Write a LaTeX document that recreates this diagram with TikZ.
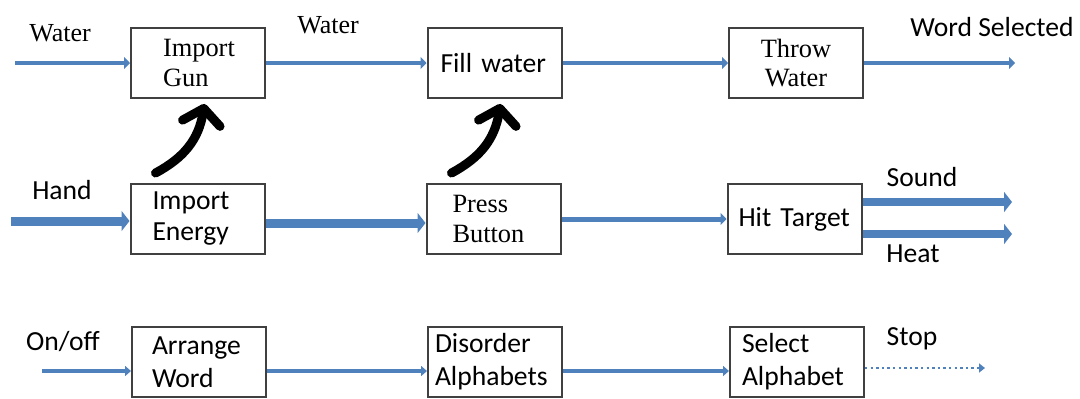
\documentclass[tikz,border=0pt]{standalone}
\usepackage{fontspec}
\setmainfont{Liberation Serif}
\newfontfamily\calibri{Carlito}
\usetikzlibrary{arrows.meta, positioning, calc}
\definecolor{flowblue}{RGB}{79,129,189}
\tikzset{
  blk/.style={draw=black!75, line width=1pt, minimum width=67pt, minimum height=35pt,
    inner ysep=0pt, align=left, font=\fontsize{13.2}{14.8}\selectfont},
  lbl/.style={inner sep=0pt, font=\fontsize{13}{15}\selectfont},
  cal/.style={font=\calibri\fontsize{13.8}{#1}\selectfont},
  cal/.default=15.5pt,
  flow/.style={draw=flowblue, line width=2pt, -{Triangle[length=3pt,width=6pt]}},
  thickflow/.style={draw=flowblue, line width=4.5pt, -{Triangle[length=4pt,width=10pt]}},
  thinflow/.style={draw=flowblue, line width=1.6pt, -{Triangle[length=3pt,width=5pt]}},
  dotflow/.style={draw=flowblue, line width=1.2pt, dash pattern=on 1.2pt off 1.6pt,
    -{Triangle[length=3pt,width=4.5pt]}},
  handarrow/.style={line width=4.5pt, line cap=round, line join=round,
    -{Straight Barb[length=7.5pt,width=19pt,round]}}
}
\begin{document}
\begin{tikzpicture}[x=0.5pt, y=-0.5pt]
\useasboundingbox (0,0) rectangle (1080,398);
%% first row
  \node[blk, inner xsep=16pt, text width=35pt] (ig) at (198,63) {Import\\Gun};
  \node[blk, inner xsep=6.5pt, text width=54pt, cal] (fw) at (494.5,63) {Fill water};
  \node[blk, inner xsep=3pt, text width=61pt, align=center] (tw) at (796,63) {Throw\\Water};
  \coordinate (win) at (15,63);
  \coordinate (wout) at (1015,63);
  \draw[flow] (win) -- (win -| ig.west);
  \draw[flow] (ig.east) -- (fw.west);
  \draw[flow] (fw.east) -- (tw.west);
  \draw[flow] (tw.east) -- (wout);
  \node[lbl] (lwater) at (60,33) {Water};
  \node[lbl] (lwatertwo) at (328,25) {Water};
  \node[lbl, cal] (lword) at (992,27) {Word Selected};
%% second row
  \node[blk, inner xsep=11pt, text width=45pt, cal] (ie) at (197.5,219) {Import\\Energy};
  \node[blk, inner xsep=13pt, text width=41pt] (pb) at (493.5,219) {Press\\Button};
  \node[blk, inner xsep=5.5pt, text width=56pt, cal] (ht) at (794.5,219) {Hit Target};
  \coordinate (hin) at (11,221);
  \coordinate (sndout) at (1012,202);
  \coordinate (heatout) at (1012,234);
  \draw[thickflow] (hin) -- (hin -| ie.west);
  \draw[thickflow] ([yshift=-2pt]ie.east) -- ([yshift=-2pt]pb.west);
  \draw[flow, line width=2.5pt] (pb.east) -- (ht.west);
  \draw[thickflow, line width=4pt] (sndout -| ht.east) -- (sndout);
  \draw[thickflow, line width=4pt] (heatout -| ht.east) -- (heatout);
  \node[lbl, cal] (lhand) at (62,190) {Hand};
  \node[lbl, cal] (lsound) at (922,177) {Sound};
  \node[lbl, cal] (lheat) at (913,254) {Heat};
%% hand drawn arrows
  \draw[handarrow] ($(ie.north west)+(26,-10)$) .. controls ($(ie.north west)+(54,-25)$)
    and ($(ie.north west)+(69,-43)$) .. ($(ie.north west)+(75,-79)$);
  \draw[handarrow] ($(pb.north west)+(26,-10)$) .. controls ($(pb.north west)+(54,-25)$)
    and ($(pb.north west)+(69,-43)$) .. ($(pb.north west)+(75,-79)$);
%% third row
  \node[blk, inner xsep=10pt, text width=47pt, cal=16.5pt] (aw) at (199,362) {Arrange\\Word};
  \node[blk, inner xsep=3.5pt, text width=60pt, cal=16.5pt] (da) at (495,362) {Disorder\\Alphabets};
  \node[blk, inner xsep=6pt, text width=55pt, cal=16.5pt] (sa) at (797,362) {Select\\Alphabet};
  \coordinate (oin) at (42,371);
  \coordinate (sout) at (985,368);
  \draw[thinflow] (oin) -- (oin -| aw.west);
  \draw[thinflow] ([yshift=-4.5pt]aw.east) -- ([yshift=-4.5pt]da.west);
  \draw[thinflow] ([yshift=-4.5pt]da.east) -- ([yshift=-4.5pt]sa.west);
  \draw[dotflow] (sout -| sa.east) -- (sout);
  \node[lbl, cal] (lonoff) at (63,341) {On/off};
  \node[lbl, cal] (lstop) at (912,339) {Stop};
\end{tikzpicture}
\end{document}
